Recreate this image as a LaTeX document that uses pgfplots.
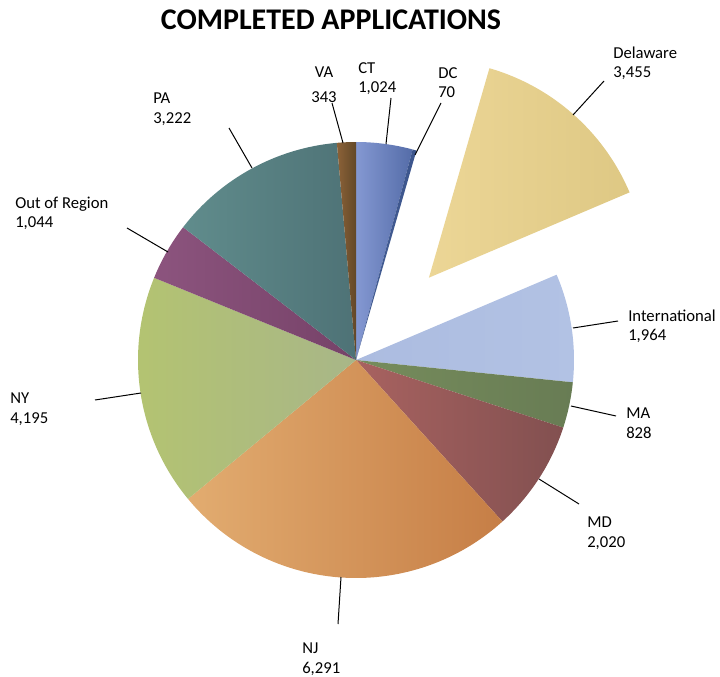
\documentclass[border=0pt]{standalone}
\usepackage{pgfplots}
\pgfplotsset{compat=1.18}
\usepackage{fontspec}
\setmainfont{Carlito}

% slice colours (left / right of the horizontal shading)
\definecolor{ctL}{RGB}{132,152,210}\definecolor{ctR}{RGB}{84,108,168}
\definecolor{dcL}{RGB}{70,95,150}\definecolor{dcR}{RGB}{60,85,140}
\definecolor{deL}{RGB}{236,214,150}\definecolor{deR}{RGB}{222,200,132}
\definecolor{inL}{RGB}{172,188,224}\definecolor{inR}{RGB}{178,194,228}
\definecolor{maL}{RGB}{118,140,92}\definecolor{maR}{RGB}{104,124,84}
\definecolor{mdL}{RGB}{168,98,96}\definecolor{mdR}{RGB}{130,80,80}
\definecolor{njL}{RGB}{226,172,112}\definecolor{njR}{RGB}{198,126,70}
\definecolor{nyL}{RGB}{180,196,112}\definecolor{nyR}{RGB}{168,182,136}
\definecolor{orL}{RGB}{140,84,126}\definecolor{orR}{RGB}{118,66,104}
\definecolor{paL}{RGB}{96,140,140}\definecolor{paR}{RGB}{78,114,118}
\definecolor{vaL}{RGB}{140,98,56}\definecolor{vaR}{RGB}{98,72,40}

\def\total{24.456}% thousands: 24,456 applications
\def\cum{0}
\def\cx{356}\def\cy{360}\def\rad{218}
% #1 value, #2 left colour, #3 right colour, #4 explosion (px)
\newcommand\slice[4]{\pgfplotsextra{%
  \pgfmathsetmacro\sa{90-\cum*360}%
  \pgfmathsetmacro\newcum{\cum+(#1/1000)/\total}\xdef\cum{\newcum}%
  \pgfmathsetmacro\sb{90-\cum*360}%
  \pgfmathsetmacro\sm{(\sa+\sb)/2}%
  \pgfmathsetmacro\ax{\cx+#4*cos(\sm)}%
  \pgfmathsetmacro\ay{\cy-#4*sin(\sm)}%
  \shade[left color=#2,right color=#3] (axis cs:\ax,\ay) -- ++(\sa:\rad*0.75pt)
    arc[start angle=\sa,end angle=\sb,radius=\rad*0.75pt] -- cycle;}}
\newcommand\lab[4]{% x, y, anchor, text
  \node[anchor=#3,inner sep=0pt,align=left,font=\fontsize{12.5}{14.3}\selectfont]
    at (axis cs:#1,#2) {#4};}

\begin{document}
\begin{tikzpicture}
\begin{axis}[
    scale only axis,
    width=540pt, height=507.75pt,
    xmin=0, xmax=720, ymin=0, ymax=677,
    y dir=reverse,
    axis lines=none,
    clip=false,
]
\path (axis cs:0,0) rectangle (axis cs:720,677);

\slice{1024}{ctL}{ctR}{0}   % CT
\slice{70}{dcL}{dcR}{0}     % DC
\slice{3455}{deL}{deR}{110} % Delaware
\slice{1964}{inL}{inR}{0}   % International
\slice{828}{maL}{maR}{0}    % MA
\slice{2020}{mdL}{mdR}{0}   % MD
\slice{6291}{njL}{njR}{0}   % NJ
\slice{4195}{nyL}{nyR}{0}   % NY
\slice{1044}{orL}{orR}{0}   % Out of Region
\slice{3222}{paL}{paR}{0}   % PA
\slice{343}{vaL}{vaR}{0}    % VA

\node[font=\fontsize{22.5}{26}\selectfont\bfseries,inner sep=0pt]
  at (axis cs:331,20) {COMPLETED APPLICATIONS};

% leader lines
\draw[line width=0.75pt] (axis cs:332,103) -- (axis cs:343,143);
\draw[line width=0.75pt] (axis cs:391,98) -- (axis cs:386,144);
\draw[line width=0.75pt] (axis cs:441,103) -- (axis cs:415,155);
\draw[line width=0.75pt] (axis cs:604,81) -- (axis cs:573,115);
\draw[line width=0.75pt] (axis cs:229,128) -- (axis cs:252,168);
\draw[line width=0.75pt] (axis cs:127,228) -- (axis cs:168,252);
\draw[line width=0.75pt] (axis cs:95,400) -- (axis cs:141,393);
\draw[line width=0.75pt] (axis cs:618,321) -- (axis cs:573,328);
\draw[line width=0.75pt] (axis cs:616,416) -- (axis cs:571,406);
\draw[line width=0.75pt] (axis cs:579,504) -- (axis cs:539,479);
\draw[line width=0.75pt] (axis cs:338,624) -- (axis cs:341,577);

% labels
\node[anchor=north,inner sep=0pt,align=center,font=\fontsize{12.5}{14.3}\selectfont]
  at (axis cs:324,67) {VA\\[4pt]343};
\lab{358}{62}{north west}{CT\\1,024}
\lab{438}{67}{north west}{DC\\70}
\lab{613}{47}{north west}{Delaware\\3,455}
\lab{153}{93}{north west}{PA\\3,222}
\lab{15}{197}{north west}{Out of Region\\1,044}
\lab{10}{393}{north west}{NY\\4,195}
\lab{628}{310}{north west}{International\\1,964}
\lab{626}{408}{north west}{MA\\828}
\lab{587}{517}{north west}{MD\\2,020}
\lab{302}{643}{north west}{NJ\\6,291}
\end{axis}
\end{tikzpicture}
\end{document}
